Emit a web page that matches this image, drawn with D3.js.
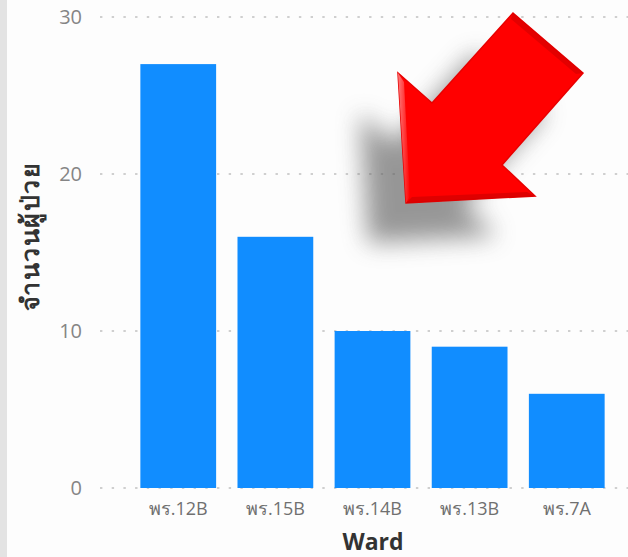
<!DOCTYPE html>
<html>
<head>
<meta charset="utf-8">
<script src="https://cdn.jsdelivr.net/npm/d3@7/dist/d3.min.js"></script>
<style>
  html, body { margin: 0; padding: 0; background: #fdfdfd; }
  svg { display: block; }
</style>
</head>
<body>
<svg id="chart" width="628" height="557"></svg>
<script>
// Patients per ward
const wards = ["พร.12B", "พร.15B", "พร.14B", "พร.13B", "พร.7A"];
const patients = [27, 16, 10, 9, 6];
const yTicks = [0, 10, 20, 30];

const W = 628, H = 557;
const svg = d3.select("#chart");

// left edge strip
svg.append("rect").attr("x", 0).attr("y", 0).attr("width", 7).attr("height", H).attr("fill", "#e3e3e3");

const x = d3.scaleBand().domain(wards).range([119, 626]).paddingInner(0.22).paddingOuter(0.22);
const y = d3.scaleLinear().domain([0, 30]).range([488, 17]);

// dotted gridlines
svg.append("g").selectAll("line").data(yTicks).join("line")
  .attr("x1", 100).attr("x2", W)
  .attr("y1", d => y(d)).attr("y2", d => y(d))
  .attr("stroke", "#cfcfcf").attr("stroke-width", 2.2)
  .attr("stroke-dasharray", "2.4,9.3");

// y axis labels
const yAxis = d3.axisLeft(y).tickValues(yTicks).tickSize(0).tickPadding(0);
const gy = svg.append("g").attr("transform", "translate(82,0)").call(yAxis);
gy.select(".domain").remove();
gy.selectAll("text").attr("fill", "#858585").style("font-family", "'Open Sans', 'DejaVu Sans', sans-serif").style("font-size", "20px");

// bars
svg.append("g").selectAll("rect").data(patients).join("rect")
  .attr("x", (d, i) => x(wards[i]))
  .attr("y", d => y(d))
  .attr("width", x.bandwidth())
  .attr("height", d => y(0) - y(d))
  .attr("fill", "#118DFF");

// x axis labels
const xAxis = d3.axisBottom(x).tickSize(0).tickPadding(0);
const gx = svg.append("g").attr("transform", "translate(0,499)").call(xAxis);
gx.select(".domain").remove();
gx.selectAll("text").attr("fill", "#707070").attr("dy", "0.9em")
  .style("font-family", "'Open Sans', 'DejaVu Sans', sans-serif").style("font-size", "18px");

// axis titles
svg.append("text").attr("x", 373).attr("y", 550).attr("text-anchor", "middle")
  .attr("fill", "#333").style("font-family", "'Open Sans', 'DejaVu Sans', sans-serif")
  .style("font-size", "23px").style("font-weight", "bold").text("Ward");

svg.append("text").attr("transform", "translate(39,236) rotate(-90)").attr("text-anchor", "middle")
  .attr("fill", "#333").style("font-family", "'Open Sans', 'DejaVu Sans', sans-serif")
  .style("font-size", "25px").style("font-weight", "bold").style("letter-spacing", "1.5px").text("จำนวนผู้ป่วย");

// red pointer arrow with soft shadow
const defs = svg.append("defs");
defs.append("filter").attr("id", "shadowBlur").attr("x", "-50%").attr("y", "-50%").attr("width", "200%").attr("height", "200%")
  .append("feGaussianBlur").attr("stdDeviation", 12);
const grad = defs.append("linearGradient").attr("id", "edge").attr("x1", 0).attr("y1", 0).attr("x2", 1).attr("y2", 0);
grad.append("stop").attr("offset", "0").attr("stop-color", "#ff9a9a");
grad.append("stop").attr("offset", "1").attr("stop-color", "#ff0000");

const arrowPts = [[513, 13], [583, 73], [502, 165], [535, 196], [406, 203], [398, 73], [432, 103]];
const line = d3.line().curve(d3.curveLinearClosed);

svg.append("path").attr("d", line(arrowPts.map(p => [p[0] - 38, p[1] + 40])))
  .attr("fill", "#606060").attr("opacity", 0.65).attr("filter", "url(#shadowBlur)");

svg.append("path").attr("d", line(arrowPts)).attr("fill", "#ff0000")
  .attr("stroke", "#e80000").attr("stroke-width", 1.5).attr("stroke-linejoin", "miter");

// bevel highlights
svg.append("path").attr("d", line([[398, 73], [404, 82], [410, 196], [406, 203]]))
  .attr("fill", "url(#edge)").attr("opacity", 0.8);
svg.append("path").attr("d", line([[513, 13], [583, 73], [576, 74], [511, 19]]))
  .attr("fill", "#d00000").attr("opacity", 0.6);
svg.append("path").attr("d", line([[535, 196], [406, 203], [412, 197], [527, 192]]))
  .attr("fill", "#c00000").attr("opacity", 0.5);
</script>
</body>
</html>
